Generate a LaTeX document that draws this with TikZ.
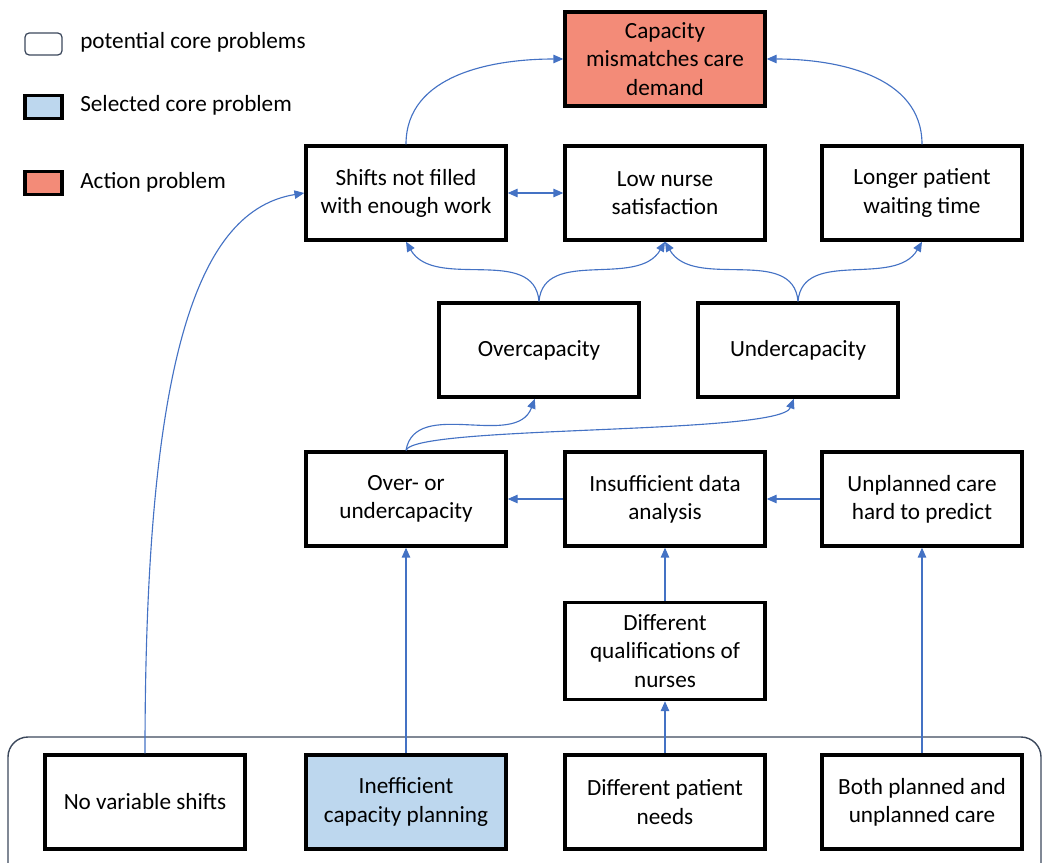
\documentclass[tikz,border=0pt]{standalone}
\usepackage{fontspec}
\setmainfont{Carlito}
\usetikzlibrary{arrows.meta}
\definecolor{actred}{RGB}{243,139,120}
\definecolor{selblue}{RGB}{189,215,238}
\definecolor{linkblue}{RGB}{68,114,196}
\definecolor{frame}{RGB}{60,72,92}

\begin{document}
\begin{tikzpicture}[x=0.025cm, y=0.025cm,
    prob/.style={draw=black, line width=2.4pt, fill=white, align=center, minimum width=5cm, minimum height=2.35cm, inner sep=2pt, font=\fontsize{16.5}{20}\selectfont},
    sel/.style={prob, fill=selblue},
    act/.style={prob, fill=actred},
    legtext/.style={anchor=west, inner sep=0pt, font=\fontsize{16.5}{20}\selectfont},
    link/.style={draw=linkblue, line width=0.8pt, -{Triangle[length=7pt, width=6pt]}}]

      \useasboundingbox (0, 0) rectangle (1046, -862);

      % legend
      \node[draw=frame, line width=0.9pt, rounded corners=3pt, minimum width=0.925cm, minimum height=0.55cm, inner sep=0pt] (legpot) at (43.5, -44) {};
      \node[draw=black, line width=2.4pt, fill=selblue, minimum width=0.925cm, minimum height=0.575cm, inner sep=0pt] (legsel) at (43.5, -107) {};
      \node[draw=black, line width=2.4pt, fill=actred, minimum width=0.925cm, minimum height=0.575cm, inner sep=0pt] (legact) at (43.5, -183) {};
      \node[legtext] (legpottext) at (80, -42) {potential core problems};
      \node[legtext] (legseltext) at (80, -105) {Selected core problem};
      \node[legtext] (legacttext) at (80, -182) {Action problem};

      % group of root causes
      \draw[frame, line width=1pt, rounded corners=0.5cm] (8, -737) rectangle (1041, -890);

      \node[act] (cap) at (665, -59) {Capacity\\mismatches care\\demand};

      \node[prob] (shifts) at (406, -193) {Shifts not filled\\with enough work};
      \node[prob] (nurse) at (665, -193) {Low nurse\\satisfaction};
      \node[prob] (wait) at (922, -193) {Longer patient\\waiting time};

      \node[prob] (over) at (539, -350) {Overcapacity};
      \node[prob] (under) at (798, -350) {Undercapacity};

      \node[prob] (overunder) at (406, -499) {Over- or\\undercapacity};
      \node[prob] (data) at (665, -499) {Insufficient data\\analysis};
      \node[prob] (unplanned) at (922, -499) {Unplanned care\\hard to predict};

      \node[prob, minimum height=2.425cm] (qual) at (665, -651) {Different\\qualifications of\\nurses};

      \node[prob] (novar) at (145, -802) {No variable shifts};
      \node[sel] (ineff) at (406, -802) {Inefficient\\capacity planning};
      \node[prob] (patient) at (665, -802) {Different patient\\needs};
      \node[prob] (both) at (922, -802) {Both planned and\\unplanned care};

      % connectors
      \draw[link] (shifts.north) to[out=90, in=180] (cap.west);
      \draw[link] (wait.north) to[out=90, in=0] (cap.east);
      \draw[link, {Triangle[length=7pt, width=6pt]}-{Triangle[length=7pt, width=6pt]}] (shifts.east) -- (nurse.west);

      \draw[link] (over.north) to[out=95, in=-60] (shifts.south);
      \draw[link] (over.north) to[out=85, in=-120] (nurse.south);
      \draw[link] (under.north) to[out=95, in=-60] (nurse.south);
      \draw[link] (under.north) to[out=85, in=-120] (wait.south);

      \draw[link] (overunder.north) to[out=80, in=-110] ([xshift=-3]over.south);
      \draw[link] (overunder.north) .. controls (415, -425) and (780, -435) .. ([xshift=-3]under.south);

      \draw[link] (data.west) -- (overunder.east);
      \draw[link] (unplanned.west) -- (data.east);
      \draw[link] (qual.north) -- (data.south);

      \draw[link] (novar.north) .. controls (145, -350) and (200, -210) .. (shifts.west);
      \draw[link] (ineff.north) -- (overunder.south);
      \draw[link] (patient.north) -- (qual.south);
      \draw[link] (both.north) -- (unplanned.south);

    \end{tikzpicture}
\end{document}
